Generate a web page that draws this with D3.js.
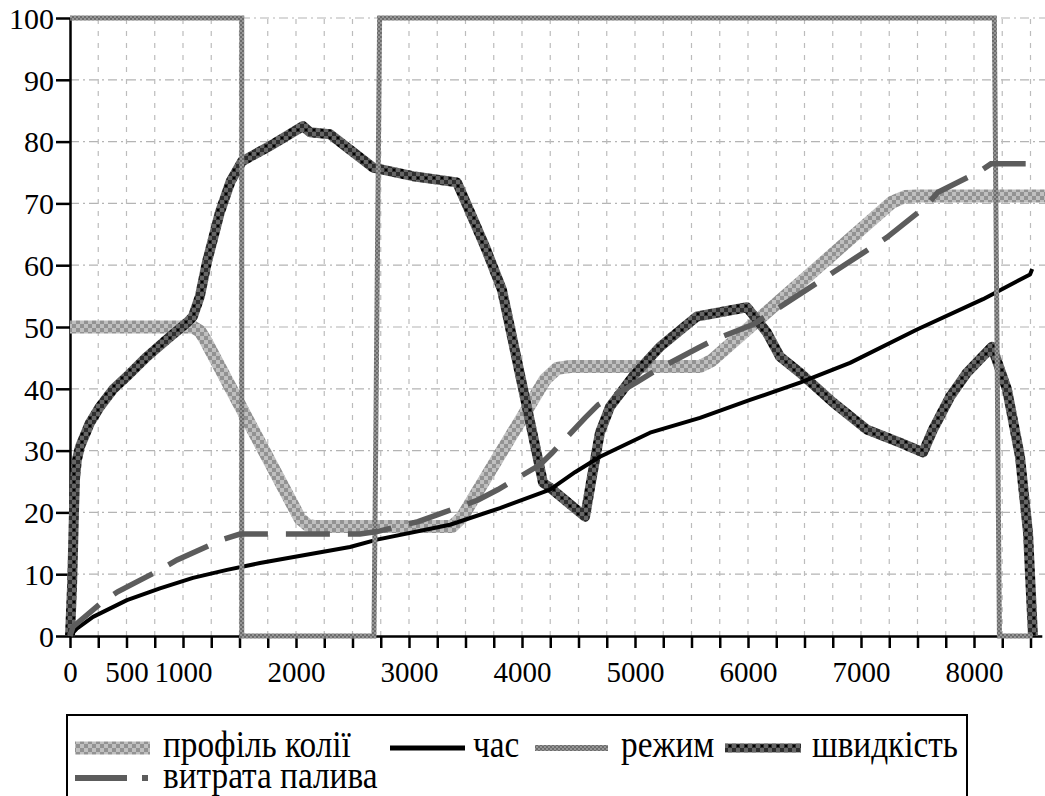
<!DOCTYPE html>
<html>
<head>
<meta charset="utf-8">
<script src="https://cdn.jsdelivr.net/npm/d3@7"></script>
<style>
	body { margin: 0; background: #fff; }
	svg { display: block; }
</style>
</head>
<body>
<div id="chart"></div>
<script>
// series: [distance, value]
const profile = [[0,50],[1088,50],[1150,49.3],[1195,48],[2035,19],[2106,17.9],[2170,17.7],[3380,17.7],[3469,19.2],
	[4204,41.5],[4310,43.3],[4425,43.6],[5575,43.6],[5681,44.6],[7274,70.2],[7389,71.1],[7504,71.2],[8700,71.2]];
const time = [[0,0],[60,1.2],[204,3.1],[504,5.8],[796,7.7],[1088,9.4],[1389,10.7],[1681,11.8],[2478,14.4],[2717,15.6],
	[3363,18],[3805,20.7],[4248,23.7],[4469,26.5],[4690,29],[5133,32.9],[5575,35.3],[6018,38.2],[6460,41],[6903,44.2],
	[7496,49.6],[8080,54.5],[8496,58.5],[8515,59.4]];
const mode = [[0,100],[1520,100],[1520,0],[2690,0],[2740,100],[8180,100],[8225,0],[8520,0]];
const speed = [[0,0],[18,8],[27,14],[35,20],[44,25.3],[60,28.4],[88,30.6],[177,34.5],[265,37.1],[381,39.9],[504,42],[681,45.2],
	[858,48],[1035,50.7],[1088,51.7],[1150,55],[1212,60.5],[1327,68.6],[1420,73.5],[1522,76.8],[1770,79.3],[2062,82.5],[2124,81.5],
	[2301,81.2],[2681,75.8],[3035,74.4],[3425,73.4],[3540,68.6],[3673,63],[3823,56],[4186,24.8],[4248,24],[4558,19.3],
	[4619,25.8],[4690,32.9],[4779,37.1],[4982,42],[5221,46.8],[5549,51.7],[5991,53.2],[6168,49.1],[6283,45.2],[6460,42.6],
	[6752,37.8],[7053,33.4],[7345,31.3],[7549,29.7],[7637,33.4],[7788,38.7],[7938,42.6],[8159,46.8],[8292,39.9],
	[8407,29],[8478,16.7],[8522,0]];
const fuel = [[0,0],[27,1.5],[292,5.6],[425,7.2],[796,10.7],[947,12.3],[1345,15.6],[1504,16.5],[2566,16.5],[2717,16.9],
	[3080,18.5],[3248,19.6],[3611,22],[3788,23.7],[4159,27.7],[4265,29.6],[4558,35.3],[4673,37.4],[5027,41.2],[5195,43.1],
	[5558,46.6],[5708,48],[6044,50.4],[7230,64.5],[7566,69.4],[7681,71.8],[8053,75.2],[8150,76.4],[8500,76.4]];

const xLabels = [0,500,1000,2000,3000,4000,5000,6000,7000,8000];
const yTicks = [0,10,20,30,40,50,60,70,80,90,100];
const names = ["профіль колії","час","режим","швидкість","витрата палива"];

const FONT = "'Liberation Serif', 'Times New Roman', serif";

function chart() {
	let W = 1045, H = 796;
	let svg = d3.select("#chart").append("svg")
		.attr("width", W)
		.attr("height", H);

	let x = d3.scaleLinear().domain([0, 8600]).range([70, 70 + 8600 * 0.113]);
	let y = d3.scaleLinear().domain([0, 100]).range([636, 18]);
	let xTicks = d3.range(0, 8501, 250);

	// textures for the thick lines
	let defs = svg.append("defs");
	function checker(id, size, bg, fg, dot) {
		let p = defs.append("pattern").attr("id", id)
			.attr("patternUnits", "userSpaceOnUse")
			.attr("width", size).attr("height", size);
		let h = size / 2;
		p.append("rect").attr("width", size).attr("height", size).attr("fill", bg);
		p.append("rect").attr("x", h).attr("y", 0).attr("width", h).attr("height", h).attr("fill", fg);
		p.append("rect").attr("x", 0).attr("y", h).attr("width", h).attr("height", h).attr("fill", fg);
		if (dot) p.append("rect").attr("x", 1).attr("y", 1).attr("width", 2).attr("height", 2).attr("fill", dot);
	}
	checker("pProfile", 8, "#bfbfbf", "#929292");
	checker("pSpeed", 8, "#2e2e2e", "#666", "#000");
	checker("pMode", 4, "#6c6c6c", "#969696");

	// grid
	let grid = svg.append("g");
	grid.selectAll(".hg").data(yTicks.filter(d => d > 0)).enter().append("line")
		.attr("x1", 70).attr("x2", W)
		.attr("y1", d => y(d)).attr("y2", d => y(d))
		.attr("stroke", "#b4b4b4").attr("stroke-width", 1.2)
		.attr("stroke-dasharray", "9,4,2,4");
	grid.selectAll(".vg").data(xTicks.filter(d => d > 0)).enter().append("line")
		.attr("x1", d => x(d)).attr("x2", d => x(d))
		.attr("y1", y(0)).attr("y2", y(100))
		.attr("stroke", "#bcbcbc").attr("stroke-width", 1.2)
		.attr("stroke-dasharray", "5,7");

	// axes
	let xAxis = svg.append("g")
		.attr("transform", "translate(0," + y(0) + ")")
		.call(d3.axisBottom(x).tickValues(xTicks).tickSize(12).tickSizeOuter(0)
			.tickFormat(d => xLabels.includes(d) ? d : ""));
	let yAxis = svg.append("g")
		.attr("transform", "translate(70,0)")
		.call(d3.axisLeft(y).tickValues(yTicks).tickSize(14).tickSizeOuter(0));
	[xAxis, yAxis].forEach(a => {
		a.select(".domain").attr("stroke", "#000").attr("stroke-width", 2.5);
		a.selectAll(".tick line").attr("stroke", "#000").attr("stroke-width", 2.5);
		a.selectAll("text").attr("fill", "#000")
			.style("font-family", FONT)
			.style("font-size", "29px");
	});
	xAxis.selectAll("text").attr("dy", null).attr("y", 46);
	yAxis.selectAll("text").attr("x", -16).attr("dy", "0.34em").style("font-size", "30px");

	// series
	let line = d3.line().x(d => x(d[0])).y(d => y(d[1]));
	let plot = svg.append("g");
	plot.append("path").datum(profile).attr("d", line)
		.attr("fill", "none").attr("stroke", "url(#pProfile)").attr("stroke-width", 13).attr("stroke-linejoin", "round");
	plot.append("path").datum(speed).attr("d", line)
		.attr("fill", "none").attr("stroke", "url(#pSpeed)").attr("stroke-width", 10).attr("stroke-linejoin", "round");
	plot.append("path").datum(time).attr("d", line)
		.attr("fill", "none").attr("stroke", "#000").attr("stroke-width", 4).attr("stroke-linejoin", "round");
	plot.append("path").datum(mode).attr("d", line)
		.attr("fill", "none").attr("stroke", "url(#pMode)").attr("stroke-width", 5);
	plot.append("path").datum(fuel).attr("d", line)
		.attr("fill", "none").attr("stroke", "#5c5c5c").attr("stroke-width", 5.5).attr("stroke-dasharray", "44,18");

	// legend
	let legend = svg.append("g");
	legend.append("rect")
		.attr("x", 67).attr("y", 715).attr("width", 900).attr("height", 110)
		.attr("fill", "#fff").attr("stroke", "#000").attr("stroke-width", 2);

	let items = [
		{x: 75, w: 75, y: 748, tx: 163, ty: 757, stroke: "url(#pProfile)", sw: 13},
		{x: 390, w: 75, y: 748, tx: 473, ty: 757, stroke: "#000", sw: 5},
		{x: 535, w: 73, y: 748, tx: 621, ty: 757, stroke: "url(#pMode)", sw: 6},
		{x: 725, w: 76, y: 748, tx: 812, ty: 757, stroke: "url(#pSpeed)", sw: 9},
		{x: 75, w: 73, y: 778, tx: 163, ty: 788, stroke: "#5c5c5c", sw: 6, dash: "52,15,6,100"}
	];
	items.forEach(function(it, i) {
		legend.append("line")
			.attr("x1", it.x).attr("x2", it.x + it.w)
			.attr("y1", it.y).attr("y2", it.y)
			.attr("stroke", it.stroke).attr("stroke-width", it.sw)
			.attr("stroke-dasharray", it.dash || null);
		legend.append("text")
			.attr("transform", "translate(" + it.tx + "," + it.ty + ") scale(0.9,1)")
			.style("font-family", FONT)
			.style("font-size", "37px")
			.attr("fill", "#000")
			.text(names[i]);
	});
}

chart();
</script>
</body>
</html>
